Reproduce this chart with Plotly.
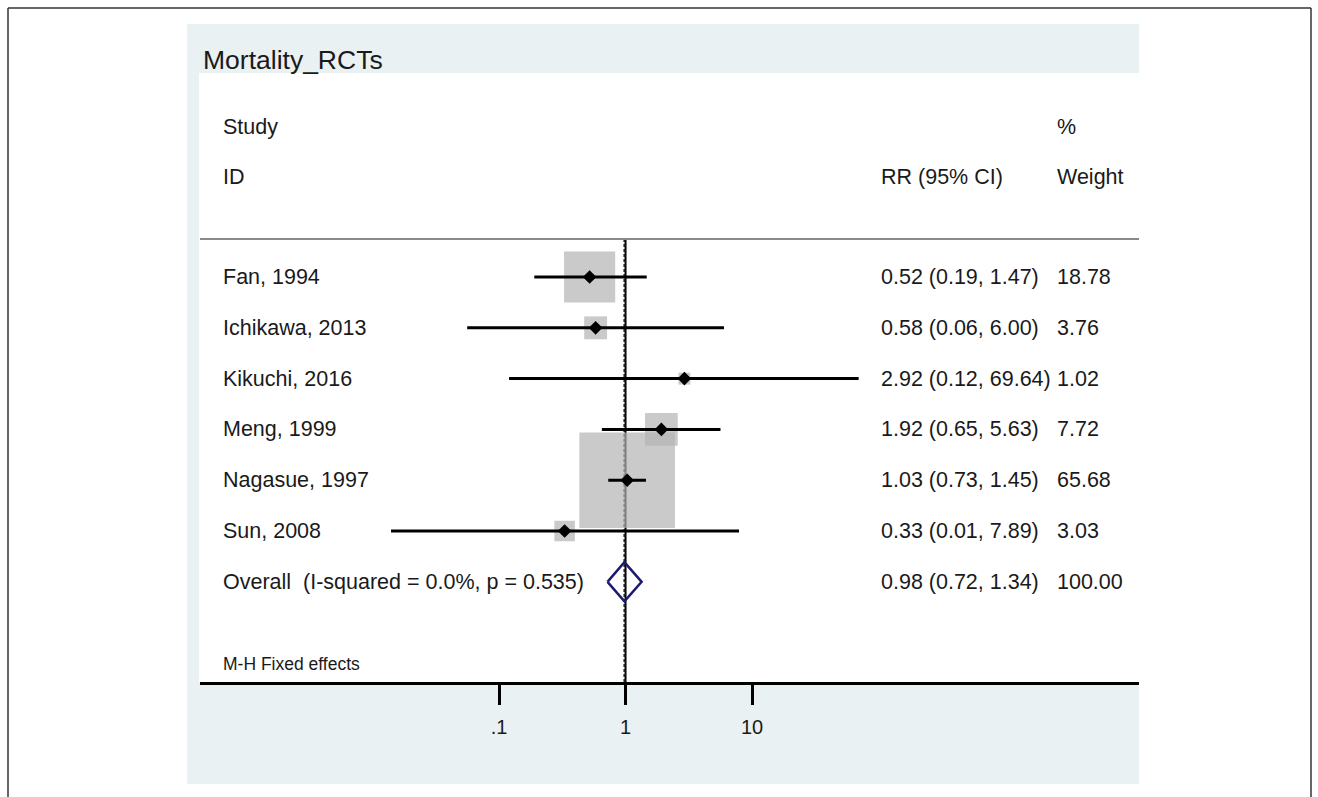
import plotly.graph_objects as go
import math

# ---------------- data ----------------
studies = ["Fan, 1994", "Ichikawa, 2013", "Kikuchi, 2016", "Meng, 1999",
           "Nagasue, 1997", "Sun, 2008"]
rr = [0.52, 0.58, 2.92, 1.92, 1.03, 0.33]
ci_low = [0.19, 0.056, 0.12, 0.65, 0.73, 0.014]
ci_high = [1.47, 6.00, 69.64, 5.63, 1.45, 7.89]
weights = [18.78, 3.76, 1.02, 7.72, 65.68, 3.03]

overall_label = "Overall  (I-squared = 0.0%, p = 0.535)"
overall_rr = 0.98
overall_low = 0.72
overall_high = 1.34
overall_weight = 100.00

title = "Mortality_RCTs"
method_note = "M-H Fixed effects"
tick_vals = [0.1, 1, 10]
tick_text = [".1", "1", "10"]

# ---------------- layout helpers ----------------
W, H = 1318, 797
FONT = "Liberation Sans, Arial, sans-serif"
TXT = "#1a1a1a"


def px(x):
    return x / W


def py(y):
    return 1 - y / H


rows = list(range(len(studies)))
overall_row = len(studies)

fig = go.Figure()

# reference line at 1 (solid) and overall estimate (dashed)
fig.add_trace(go.Scatter(x=[1, 1], y=[-0.75, 7.97], mode="lines",
                         line=dict(color="black", width=2), hoverinfo="skip"))
fig.add_trace(go.Scatter(x=[overall_rr, overall_rr], y=[-0.75, 7.97], mode="lines",
                         line=dict(color="#222222", width=2, dash="3px,2px"),
                         hoverinfo="skip"))

# weight boxes
fig.add_trace(go.Scatter(
    x=rr, y=rows, mode="markers",
    marker=dict(symbol="square", size=[11.8 * math.sqrt(w) for w in weights],
                color="#b4b4b4", line=dict(width=0)),
    hoverinfo="skip"))

# confidence intervals
cx, cy = [], []
for lo, hi, r in zip(ci_low, ci_high, rows):
    cx += [lo, hi, None]
    cy += [r, r, None]
fig.add_trace(go.Scatter(x=cx, y=cy, mode="lines",
                         line=dict(color="black", width=3), hoverinfo="skip"))

# point estimates
fig.add_trace(go.Scatter(x=rr, y=rows, mode="markers",
                         marker=dict(symbol="diamond", size=10.5, color="black"),
                         hoverinfo="skip"))

# overall diamond
dh = 0.385
fig.add_trace(go.Scatter(
    x=[overall_low, overall_rr, overall_high, overall_rr, overall_low],
    y=[overall_row, overall_row - dh, overall_row, overall_row + dh, overall_row],
    mode="lines", line=dict(color="#1c1c6e", width=2.5), hoverinfo="skip"))

# ---------------- text annotations ----------------
ann = []


def add_text(x_px, y, text, size=21.5, yref="y"):
    ann.append(dict(x=px(x_px), xref="paper", y=y, yref=yref, text=text,
                    showarrow=False, xanchor="left", yanchor="middle",
                    font=dict(family=FONT, size=size, color=TXT)))


add_text(221, -2.95, "Study")
add_text(221, -1.97, "ID")
add_text(1055, -2.95, "%")
add_text(879, -1.97, "RR (95% CI)")
add_text(1055, -1.97, "Weight")

for s, r, lo, hi, w, row in zip(studies, rr, ci_low, ci_high, weights, rows):
    add_text(221, row, s)
    add_text(879, row, f"{r:.2f} ({lo:.2f}, {hi:.2f})")
    add_text(1055, row, f"{w:.2f}")

add_text(221, overall_row, overall_label)
add_text(879, overall_row, f"{overall_rr:.2f} ({overall_low:.2f}, {overall_high:.2f})")
add_text(1055, overall_row, f"{overall_weight:.2f}")

add_text(221, 7.62, method_note, size=17.5)

# title
ann.append(dict(x=px(201), xref="paper", y=py(60), yref="paper", text=title,
                showarrow=False, xanchor="left", yanchor="middle",
                font=dict(family=FONT, size=26.5, color=TXT)))

# ---------------- shapes ----------------
shapes = [
    # light panel
    dict(type="rect", xref="paper", yref="paper", x0=px(187), x1=px(1139),
         y0=py(784), y1=py(24), fillcolor="#eaf1f3", line=dict(width=0),
         layer="below"),
    # white plot region
    dict(type="rect", xref="paper", yref="paper", x0=px(199), x1=px(1139),
         y0=py(682), y1=py(73), fillcolor="white", line=dict(width=0),
         layer="below"),
    # header separator
    dict(type="line", xref="paper", yref="y", x0=px(200), x1=px(1139),
         y0=-0.75, y1=-0.75, line=dict(color="#8a8a8a", width=2)),
    # outer frame
    dict(type="line", xref="paper", yref="paper", x0=px(8), x1=px(1311),
         y0=py(8), y1=py(8), line=dict(color="#333333", width=1.5)),
    dict(type="line", xref="paper", yref="paper", x0=px(8), x1=px(8),
         y0=py(8), y1=0, line=dict(color="#333333", width=1.5)),
    dict(type="line", xref="paper", yref="paper", x0=px(1311), x1=px(1311),
         y0=py(8), y1=0, line=dict(color="#333333", width=1.5)),
]

x_left = -3.364
x_right = 4.059

fig.update_layout(
    width=W, height=H,
    margin=dict(l=0, r=0, t=0, b=0),
    paper_bgcolor="white",
    plot_bgcolor="rgba(0,0,0,0)",
    showlegend=False,
    hovermode=False,
    annotations=ann,
    shapes=shapes,
    xaxis=dict(type="log", domain=[px(200), px(1139)], range=[x_left, x_right],
               showgrid=False, zeroline=False, showline=True,
               linecolor="black", linewidth=3,
               ticks="outside", ticklen=20, tickwidth=3, tickcolor="black",
               tickvals=tick_vals, ticktext=tick_text, ticklabelstandoff=5,
               tickfont=dict(family=FONT, size=20, color=TXT)),
    yaxis=dict(domain=[py(682), py(73)], range=[7.972, -4.016],
               showgrid=False, zeroline=False, showline=False,
               showticklabels=False, ticks=""),
)

fig.write_html("out.html", config={"displayModeBar": False})
